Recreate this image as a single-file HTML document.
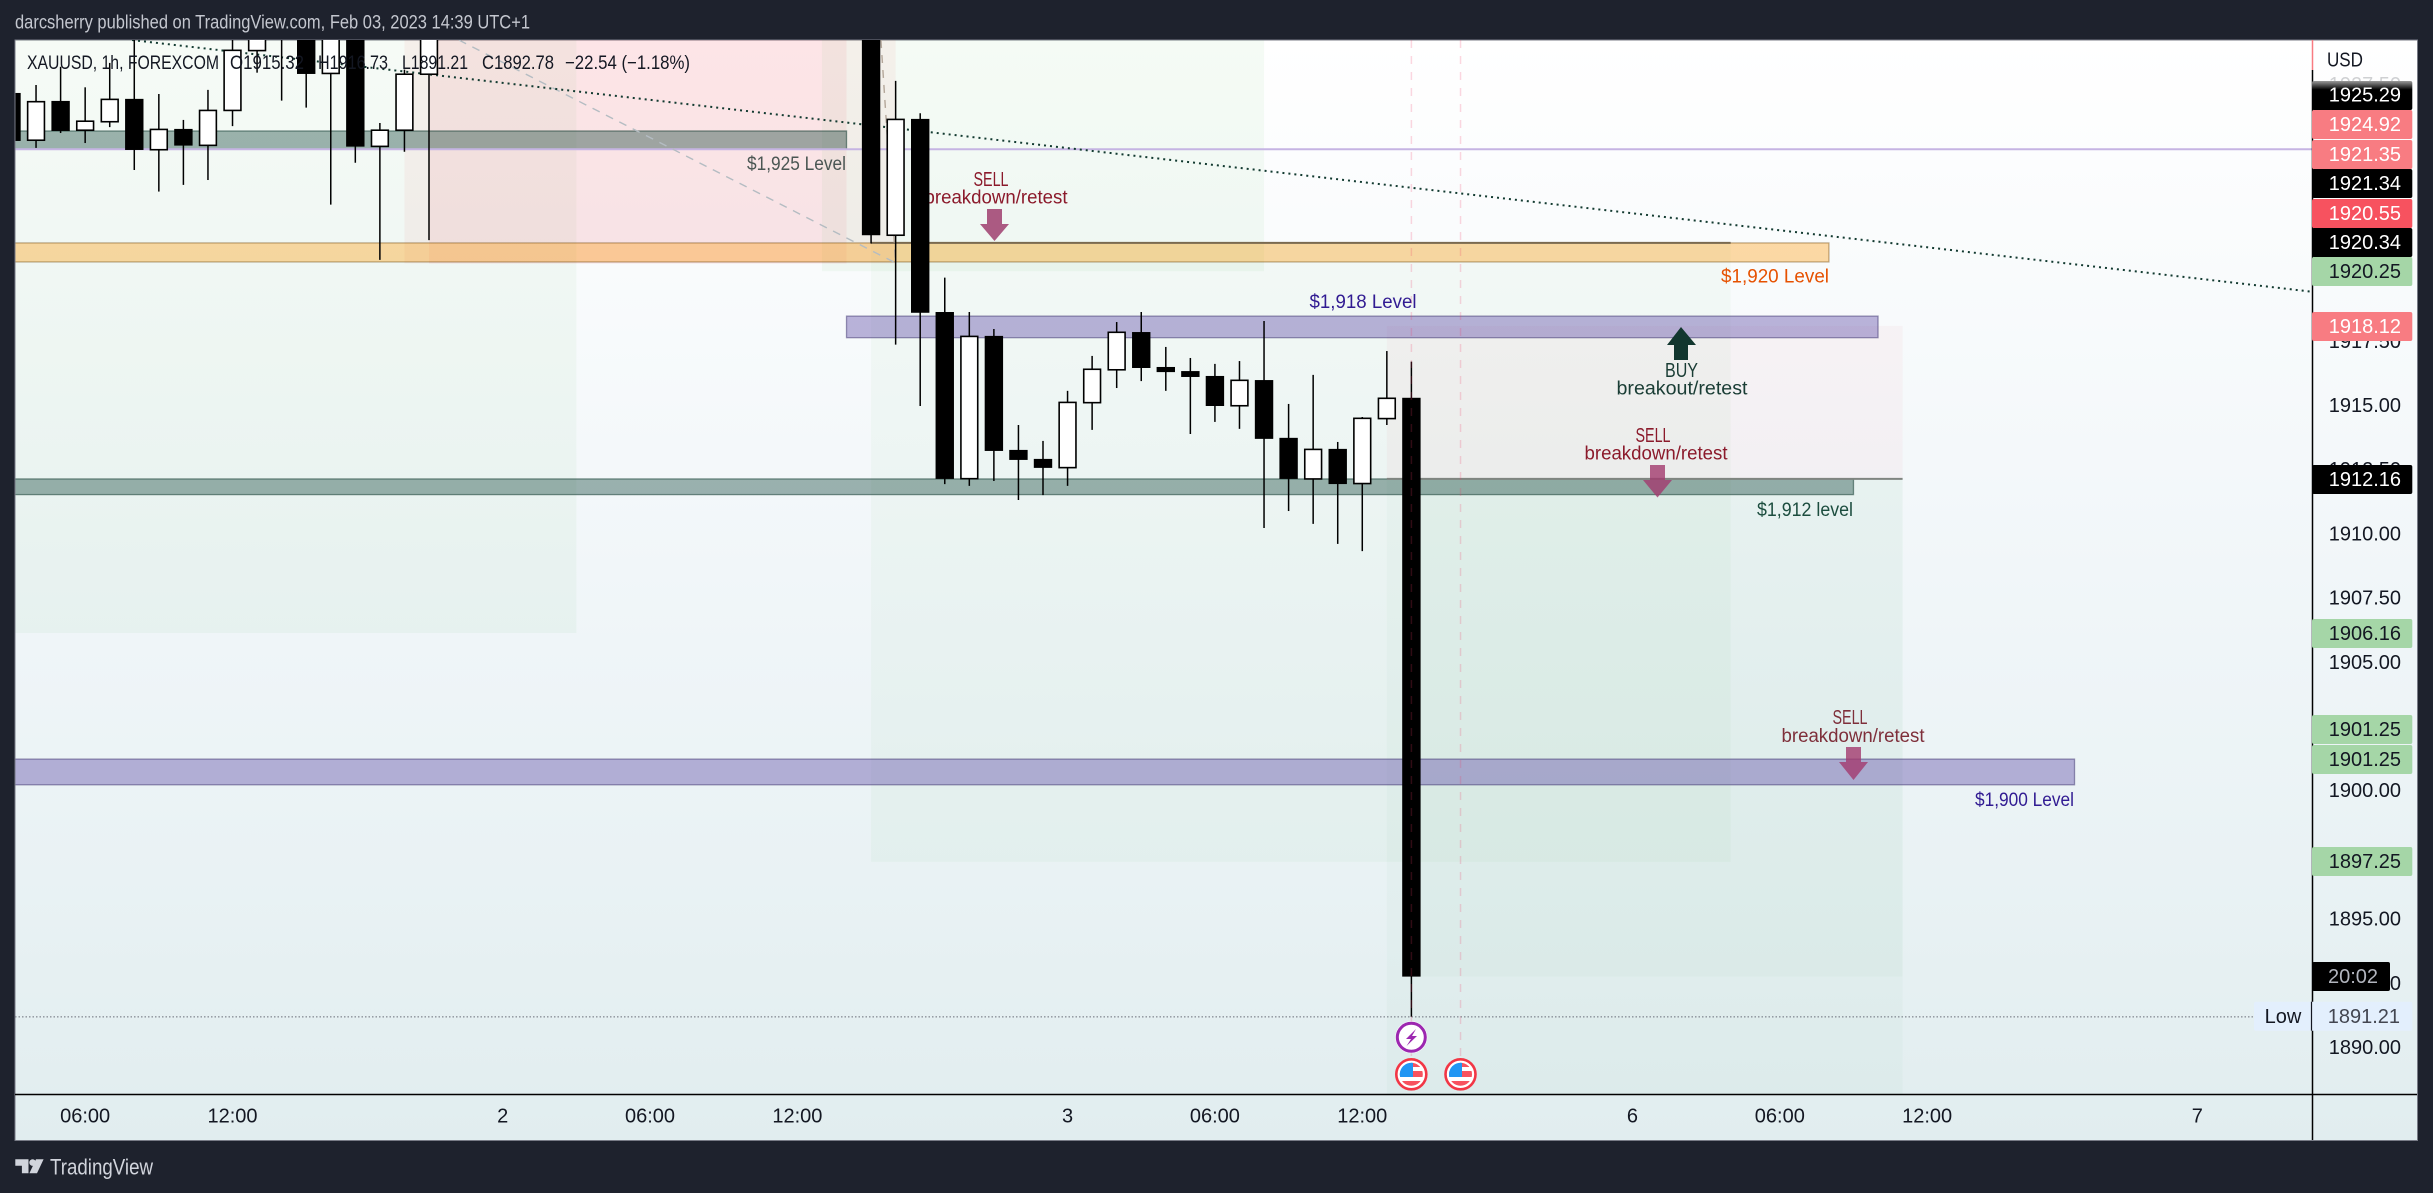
<!DOCTYPE html>
<html lang="en">
<head>
<meta charset="utf-8">
<title>XAUUSD 1h chart</title>
<style>
html,body{margin:0;padding:0;width:2433px;height:1193px;overflow:hidden;background:#1e222d}
svg{display:block;position:absolute;left:0;top:0}
text{font-family:"Liberation Sans",sans-serif;dominant-baseline:central}
</style>
</head>
<body>
<svg xmlns="http://www.w3.org/2000/svg" width="2433" height="1193" viewBox="0 0 2433 1193">
  <defs>
    <linearGradient id="paneGrad" x1="0" y1="0" x2="0" y2="1">
      <stop offset="0" stop-color="#ffffff"/>
      <stop offset="0.55" stop-color="#eff5f8"/>
      <stop offset="0.76" stop-color="#e9f2f4"/>
      <stop offset="1" stop-color="#e1edef"/>
    </linearGradient>
    <linearGradient id="fadeBox" x1="0" y1="0" x2="0" y2="1">
      <stop offset="0" stop-color="#9a9a9a"/>
      <stop offset="0.3" stop-color="#000000"/>
      <stop offset="1" stop-color="#000000"/>
    </linearGradient>
    <clipPath id="paneClip"><rect x="15.5" y="40" width="2296.5" height="1054"/></clipPath>
    <clipPath id="flagClipA"><circle cx="1411.3" cy="1074.3" r="11.5"/></clipPath>
    <clipPath id="flagClipB"><circle cx="1460.5" cy="1074.3" r="11.5"/></clipPath>
  </defs>

  <rect x="0" y="0" width="2433" height="1193" fill="#1e222d"/>
  <text x="15" y="23" font-size="19" fill="#c4c7cf" textLength="515" lengthAdjust="spacingAndGlyphs">darcsherry published on TradingView.com, Feb 03, 2023 14:39 UTC+1</text>

  <rect x="15" y="40" width="2402.5" height="1100.5" fill="url(#paneGrad)" stroke="#787b86" stroke-width="1"/>

  <g id="zones" clip-path="url(#paneClip)"></g>

  <g id="annotations">
    <text x="846" y="164" font-size="19.5" fill="#4a5653" text-anchor="end" textLength="99" lengthAdjust="spacingAndGlyphs">$1,925 Level</text>
    <text x="1829" y="276.5" font-size="19.5" fill="#e65100" text-anchor="end" textLength="108" lengthAdjust="spacingAndGlyphs">$1,920 Level</text>
    <text x="1363" y="302" font-size="19.5" fill="#311b92" text-anchor="middle" textLength="107" lengthAdjust="spacingAndGlyphs">$1,918 Level</text>
    <text x="1853" y="510" font-size="19.5" fill="#1c4d3f" text-anchor="end" textLength="96" lengthAdjust="spacingAndGlyphs">$1,912 level</text>
    <text x="2074" y="800" font-size="19.5" fill="#311b92" text-anchor="end" textLength="99" lengthAdjust="spacingAndGlyphs">$1,900 Level</text>

    <text x="991" y="180" font-size="20" fill="#8b1a2b" text-anchor="middle" textLength="35" lengthAdjust="spacingAndGlyphs">SELL</text>
    <text x="996" y="198" font-size="19" fill="#8b1a2b" text-anchor="middle" textLength="143" lengthAdjust="spacingAndGlyphs">breakdown/retest</text>
    <polygon points="987,209 1002,209 1002,224 1009,224 994.5,241 980,224 987,224" fill="#ab5a82"/>

    <polygon points="1681,327 1696,345 1688,345 1688,360 1674,360 1674,345 1667,345" fill="#12372f"/>
    <text x="1681.5" y="371" font-size="20" fill="#1a3d35" text-anchor="middle" textLength="33" lengthAdjust="spacingAndGlyphs">BUY</text>
    <text x="1682" y="389" font-size="19" fill="#1a3d35" text-anchor="middle" textLength="131" lengthAdjust="spacingAndGlyphs">breakout/retest</text>

    <text x="1653" y="436" font-size="20" fill="#8b1a2b" text-anchor="middle" textLength="35" lengthAdjust="spacingAndGlyphs">SELL</text>
    <text x="1656" y="454" font-size="19" fill="#8b1a2b" text-anchor="middle" textLength="143" lengthAdjust="spacingAndGlyphs">breakdown/retest</text>
    <polygon points="1650,465 1665,465 1665,480 1672,480 1657.5,497.5 1643,480 1650,480" fill="#a33a6e" fill-opacity="0.8"/>

    <text x="1850" y="718" font-size="20" fill="#7e2f3a" text-anchor="middle" textLength="35" lengthAdjust="spacingAndGlyphs">SELL</text>
    <text x="1853" y="736.5" font-size="19" fill="#7e2f3a" text-anchor="middle" textLength="143" lengthAdjust="spacingAndGlyphs">breakdown/retest</text>
    <polygon points="1846,747 1861,747 1861,762 1868,762 1853.5,780 1839,762 1846,762" fill="#a33a6e" fill-opacity="0.8"/>
  </g>

  <g id="candles" clip-path="url(#paneClip)"></g>
  <g id="overlays" clip-path="url(#paneClip)"></g>

  <g id="legend" font-size="19" fill="#131722">
    <text x="27" y="63.5" textLength="192" lengthAdjust="spacingAndGlyphs">XAUUSD, 1h, FOREXCOM</text>
    <text x="230" y="63.5" textLength="74" lengthAdjust="spacingAndGlyphs">O1915.32</text>
    <text x="318" y="63.5" textLength="70" lengthAdjust="spacingAndGlyphs">H1916.73</text>
    <text x="402" y="63.5" textLength="66" lengthAdjust="spacingAndGlyphs">L1891.21</text>
    <text x="482" y="63.5" textLength="72" lengthAdjust="spacingAndGlyphs">C1892.78</text>
    <text x="565" y="63.5" textLength="125" lengthAdjust="spacingAndGlyphs">−22.54 (−1.18%)</text>
  </g>

  <g>
    <g>
      <circle cx="1411.3" cy="1037.3" r="16" fill="#ffffff"/>
      <circle cx="1411.3" cy="1037.3" r="14" fill="#ffffff" stroke="#9c27b0" stroke-width="3"/>
      <polygon points="1416,1029 1406,1039 1411,1039 1406.5,1046 1417,1036 1412,1036" fill="#9c27b0"/>
    </g>
    <g>
      <circle cx="1411.3" cy="1074.3" r="15" fill="#ffffff" stroke="#f23645" stroke-width="2.6"/>
      <g clip-path="url(#flagClipA)">
        <rect x="1399" y="1062" width="25" height="25" fill="#ffffff"/>
        <rect x="1399" y="1071" width="25" height="6" fill="#f7525f"/>
        <rect x="1399" y="1081" width="25" height="6" fill="#f7525f"/>
        <rect x="1411" y="1062" width="13" height="5" fill="#f7525f"/>
        <rect x="1399" y="1062" width="14" height="15" fill="#2196f3"/>
      </g>
    </g>
    <g>
      <circle cx="1460.5" cy="1074.3" r="15" fill="#ffffff" stroke="#f23645" stroke-width="2.6"/>
      <g clip-path="url(#flagClipB)">
        <rect x="1448" y="1062" width="25" height="25" fill="#ffffff"/>
        <rect x="1448" y="1071" width="25" height="6" fill="#f7525f"/>
        <rect x="1448" y="1081" width="25" height="6" fill="#f7525f"/>
        <rect x="1460" y="1062" width="13" height="5" fill="#f7525f"/>
        <rect x="1448" y="1062" width="14" height="15" fill="#2196f3"/>
      </g>
    </g>
  </g>

  <g id="priceAxis"></g>
  <g id="timeAxis"></g>

  <line x1="2312.5" y1="40" x2="2312.5" y2="70" stroke="#f87c82" stroke-width="1.5"/>
  <line x1="2312.5" y1="70" x2="2312.5" y2="1140" stroke="#000000" stroke-width="1.5"/>
  <line x1="15" y1="1094.5" x2="2417" y2="1094.5" stroke="#000000" stroke-width="1.5"/>

  <text x="2327" y="60.5" font-size="20" fill="#131722" textLength="36" lengthAdjust="spacingAndGlyphs">USD</text>

  <g font-size="20" text-anchor="end">
    <g><rect x="2312" y="81" width="100.3" height="29" rx="2" fill="url(#fadeBox)"/><text x="2401" y="95.7" fill="#ffffff">1925.29</text></g>
    <g><rect x="2312" y="110" width="100.3" height="29" rx="2" fill="#f87c82"/><text x="2401" y="125" fill="#ffffff">1924.92</text></g>
    <g><rect x="2312" y="140" width="100.3" height="29" rx="2" fill="#f87c82"/><text x="2401" y="155" fill="#ffffff">1921.35</text></g>
    <g><rect x="2312" y="169" width="100.3" height="29" rx="2" fill="#000000"/><text x="2401" y="184" fill="#ffffff">1921.34</text></g>
    <g><rect x="2312" y="199" width="100.3" height="29" rx="2" fill="#f7525f"/><text x="2401" y="214" fill="#ffffff">1920.55</text></g>
    <g><rect x="2312" y="228" width="100.3" height="29" rx="2" fill="#000000"/><text x="2401" y="243" fill="#ffffff">1920.34</text></g>
    <g><rect x="2312" y="257" width="100.3" height="29" rx="2" fill="#a5d6a7"/><text x="2401" y="272" fill="#131722">1920.25</text></g>
    <g><rect x="2312" y="312" width="100.3" height="29" rx="2" fill="#f87c82"/><text x="2401" y="327" fill="#ffffff">1918.12</text></g>
    <g><rect x="2312" y="465" width="100.3" height="29" rx="2" fill="#000000"/><text x="2401" y="480" fill="#ffffff">1912.16</text></g>
    <g><rect x="2312" y="619" width="100.3" height="29" rx="2" fill="#a5d6a7"/><text x="2401" y="634" fill="#131722">1906.16</text></g>
    <g><rect x="2312" y="715" width="100.3" height="29" rx="2" fill="#a5d6a7"/><text x="2401" y="730" fill="#131722">1901.25</text></g>
    <g><rect x="2312" y="745" width="100.3" height="29" rx="2" fill="#a5d6a7"/><text x="2401" y="760" fill="#131722">1901.25</text></g>
    <g><rect x="2312" y="847" width="100.3" height="29" rx="2" fill="#a5d6a7"/><text x="2401" y="862" fill="#131722">1897.25</text></g>
    <g><rect x="2312" y="962" width="78" height="29" rx="2" fill="#000000"/><text x="2353" y="977" fill="#b2b5be" text-anchor="middle">20:02</text></g>
    <g><rect x="2254" y="1001.7" width="158.3" height="29" rx="2" fill="#e3effd"/><text x="2283" y="1017" fill="#131722" text-anchor="middle">Low</text><line x1="2311.5" y1="1001.7" x2="2311.5" y2="1030.7" stroke="#131722" stroke-width="1.2"/><text x="2400" y="1017" fill="#434651">1891.21</text></g>
  </g>

  <g>
    <path d="M15.3 1159.3h13.2v14h-6.6v-7.6h-6.6z M36 1159.3h7.6l-6.6 14h-7.6z" fill="#d1d4dc"/>
    <circle cx="32.6" cy="1162.6" r="3.3" fill="#d1d4dc"/>
    <text x="50" y="1167" font-size="22" fill="#d1d4dc" textLength="103" lengthAdjust="spacingAndGlyphs">TradingView</text>
  </g>

  <script>
    // ---- chart data (bars counted back from the latest hourly candle) ----
    var barsBack = [57,56,55,54,53,52,51,50,49,48,47,46,45,44,43,42,41,40,22,21,20,19,18,17,16,15,14,13,12,11,10,9,8,7,6,5,4,3,2,1,0];
    var opens  = [1927.19,1925.35,1926.88,1925.74,1926.07,1926.96,1924.98,1925.79,1925.15,1926.51,1928.84,1931.2,1931,1927.95,1931,1925.11,1925.74,1927.92,1932,1921.65,1926.18,1918.66,1912.17,1917.73,1913.29,1912.94,1912.60,1915.13,1916.41,1917.88,1916.52,1916.36,1916.17,1915.01,1916.01,1913.76,1912.16,1913.33,1911.98,1914.51,1915.32];
    var highs  = [1927.9,1927.5,1928.21,1927.41,1928.36,1931,1927.15,1926.14,1927.31,1931,1932,1932,1932,1932,1932,1926.02,1928.1,1932,1933,1927.66,1926.4,1920,1918.66,1918,1914.26,1913.64,1915.59,1916.95,1918.27,1918.66,1917.3,1916.87,1916.64,1916.75,1918.31,1915.08,1916.21,1913.6,1914.57,1917.14,1916.73];
    var lows   = [1925,1925.05,1925.63,1925.24,1925.86,1924.19,1923.35,1923.61,1923.8,1925.9,1927.98,1926.89,1926.62,1922.84,1924.47,1920.69,1924.9,1921.46,1921.33,1917.39,1915,1911.96,1911.89,1912.08,1911.34,1911.53,1911.89,1914.07,1915.7,1915.97,1915.59,1913.91,1914.38,1914.11,1910.25,1910.91,1910.41,1909.63,1909.35,1914.26,1891.21];
    var closes = [1925.32,1926.85,1925.71,1926.09,1926.94,1924.97,1925.77,1925.14,1926.51,1928.85,1931,1930.5,1927.93,1931,1925.1,1925.74,1927.92,1931,1921.65,1926.16,1918.63,1912.16,1917.71,1913.25,1912.9,1912.59,1915.14,1916.43,1917.87,1916.48,1916.32,1916.13,1915,1916,1913.72,1912.16,1913.31,1911.96,1914.52,1915.3,1892.78];

    var priceTicks = [1927.5,1925,1922.5,1920,1917.5,1915,1912.5,1910,1907.5,1905,1902.5,1900,1897.5,1895,1892.5,1890];
    var hiddenPriceTicks = [1925,1922.5,1920,1902.5,1897.5];
    var fadedPriceTicks = [1927.5];
    var timeTickBars = [54,48,37,31,25,14,8,2,-9,-15,-21,-32];
    var timeTickLabels = ['06:00','12:00','2','06:00','12:00','3','06:00','12:00','6','06:00','12:00','7'];

    // drawing boxes: bar-offset range and price range
    var zoneNames  = ['green-zone-left','pink-zone-outer','pink-zone-inner','green-zone-upper','green-zone-middle','green-zone-lower','green-zone-inner','pink-zone-right'];
    var zoneFromBar= [60,41,40,24,22,1,0,1];
    var zoneToBar  = [34,21,23,6,-13,-20,-20,-20];
    var zoneTop    = [1935,1935,1935,1935,1921.35,1912.16,1912.16,1918.12];
    var zoneBottom = [1906.16,1920.55,1920.55,1920.25,1897.25,1885,1892.78,1912.16];
    var zoneFill   = ['rgba(76,175,80,0.05)','rgba(230,70,60,0.06)','rgba(245,50,80,0.075)','rgba(76,175,80,0.055)','rgba(76,175,80,0.04)','rgba(76,175,80,0.03)','rgba(76,175,80,0.03)','rgba(242,54,69,0.04)'];

    // horizontal level bands
    var bandNames  = ['band-1925','band-1920','band-1918','band-1912','band-1900'];
    var bandFromBar= [60,60,23,60,60];
    var bandToBar  = [23,-17,-19,-18,-27];
    var bandTop    = [1925.71,1921.35,1918.5,1912.16,1901.25];
    var bandBottom = [1925,1920.61,1917.66,1911.55,1900.25];
    var bandFill   = ['rgba(8,60,50,0.38)','rgba(255,152,0,0.35)','rgba(90,70,165,0.4)','rgba(8,60,50,0.38)','rgba(90,70,165,0.4)'];
    var bandStroke = ['rgba(8,50,40,0.5)','rgba(120,80,20,0.45)','rgba(60,50,110,0.5)','rgba(8,50,40,0.5)','rgba(60,50,110,0.5)'];

    // single horizontal lines
    var hLineNames  = ['level-line-1925','stop-line-1921','stop-line-1912'];
    var hLinePrice  = [1925,1921.35,1912.16];
    var hLineFromBar= [60,22,1];
    var hLineToBar  = [-37,-13,-20];
    var hLineColor  = ['#c5b4e3','#7a6a50','#7f8580'];

    var trendBars   = [52.09,-36.67];
    var trendPrices = [1929.25,1919.45];
    var guideABars  = [38.78,21];
    var guideAPrices= [1929.25,1920.57];
    var guideBBars  = [21.6,21];
    var guideBPrices= [1929.25,1920.57];
    var eventBars   = [0,-2];
    var lowPrice    = 1891.21;

    // ---- axis functions ----
    function xScale(bar){ return 1411.4 - bar * 24.56; }
    function yScale(price){ return 406 + (1915 - price) * 25.68; }

    var NS = 'http://www.w3.org/2000/svg';
    function make(tag, parent){
      var node = document.createElementNS(NS, tag);
      parent.appendChild(node);
      return node;
    }

    var zonesG = document.getElementById('zones');
    for (var z = 0; z < zoneNames.length; z++){
      var zr = make('rect', zonesG);
      zr.setAttribute('x', xScale(zoneFromBar[z]));
      zr.setAttribute('width', xScale(zoneToBar[z]) - xScale(zoneFromBar[z]));
      zr.setAttribute('y', yScale(zoneTop[z]));
      zr.setAttribute('height', yScale(zoneBottom[z]) - yScale(zoneTop[z]));
      zr.setAttribute('fill', zoneFill[z]);
      
      
    }
    for (var b = 0; b < bandNames.length; b++){
      var br = make('rect', zonesG);
      br.setAttribute('x', xScale(bandFromBar[b]));
      br.setAttribute('width', xScale(bandToBar[b]) - xScale(bandFromBar[b]));
      br.setAttribute('y', yScale(bandTop[b]));
      br.setAttribute('height', yScale(bandBottom[b]) - yScale(bandTop[b]));
      br.setAttribute('fill', bandFill[b]);
      br.setAttribute('stroke', bandStroke[b]);
      br.setAttribute('stroke-width', '1.3');
      
      
    }
    for (var h = 0; h < hLineNames.length; h++){
      var hl = make('line', zonesG);
      hl.setAttribute('x1', xScale(hLineFromBar[h]));
      hl.setAttribute('x2', xScale(hLineToBar[h]));
      hl.setAttribute('y1', yScale(hLinePrice[h]));
      hl.setAttribute('y2', yScale(hLinePrice[h]));
      hl.setAttribute('stroke', hLineColor[h]);
      hl.setAttribute('stroke-width', '2');
      
      
    }

    var guideA = make('line', zonesG);
    guideA.setAttribute('x1', xScale(guideABars[0]));
    guideA.setAttribute('y1', yScale(guideAPrices[0]));
    guideA.setAttribute('x2', xScale(guideABars[1]));
    guideA.setAttribute('y2', yScale(guideAPrices[1]));
    guideA.setAttribute('stroke', '#b4bcc2');
    guideA.setAttribute('stroke-width', '1.4');
    guideA.setAttribute('stroke-dasharray', '8 7');
    
    

    var guideB = make('line', zonesG);
    guideB.setAttribute('x1', xScale(guideBBars[0]));
    guideB.setAttribute('y1', yScale(guideBPrices[0]));
    guideB.setAttribute('x2', xScale(guideBBars[1]));
    guideB.setAttribute('y2', yScale(guideBPrices[1]));
    guideB.setAttribute('stroke', '#b4a79a');
    guideB.setAttribute('stroke-width', '1.4');
    guideB.setAttribute('stroke-dasharray', '8 7');
    
    

    var trend = make('line', zonesG);
    trend.setAttribute('x1', xScale(trendBars[0]));
    trend.setAttribute('y1', yScale(trendPrices[0]));
    trend.setAttribute('x2', xScale(trendBars[1]));
    trend.setAttribute('y2', yScale(trendPrices[1]));
    trend.setAttribute('stroke', '#123a30');
    trend.setAttribute('stroke-width', '2');
    trend.setAttribute('stroke-dasharray', '2 4');
    
    

    var candlesG = document.getElementById('candles');
    var BODY_W = 18.4;
    for (var i = 0; i < barsBack.length; i++){
      var cx = xScale(barsBack[i]);
      var up = closes[i] >= opens[i];
      var topY = yScale(Math.max(opens[i], closes[i]));
      var botY = yScale(Math.min(opens[i], closes[i]));

      var wick = make('line', candlesG);
      wick.setAttribute('x1', cx);
      wick.setAttribute('x2', cx);
      wick.setAttribute('y1', yScale(highs[i]));
      wick.setAttribute('y2', yScale(lows[i]));
      wick.setAttribute('stroke', '#000000');
      wick.setAttribute('stroke-width', '1.5');
      
      

      var body = make('rect', candlesG);
      if (up){
        body.setAttribute('x', cx - BODY_W / 2 + 0.8);
        body.setAttribute('width', BODY_W - 1.6);
        body.setAttribute('y', topY);
        body.setAttribute('height', Math.max(botY - topY, 1));
        body.setAttribute('fill', '#ffffff');
        body.setAttribute('stroke', '#000000');
        body.setAttribute('stroke-width', '1.6');
      } else {
        body.setAttribute('x', cx - BODY_W / 2);
        body.setAttribute('width', BODY_W);
        body.setAttribute('y', topY);
        body.setAttribute('height', Math.max(botY - topY, 1));
        body.setAttribute('fill', '#000000');
      }
      
      
    }

    var overlaysG = document.getElementById('overlays');
    for (var e = 0; e < eventBars.length; e++){
      var ev = make('line', overlaysG);
      ev.setAttribute('x1', xScale(eventBars[e]));
      ev.setAttribute('x2', xScale(eventBars[e]));
      ev.setAttribute('y1', 40);
      ev.setAttribute('y2', 1060);
      ev.setAttribute('stroke', 'rgba(242,54,100,0.2)');
      ev.setAttribute('stroke-width', '1.5');
      ev.setAttribute('stroke-dasharray', '8 8');
      
      
    }

    var lowLine = make('line', overlaysG);
    lowLine.setAttribute('x1', 15);
    lowLine.setAttribute('x2', 2254);
    lowLine.setAttribute('y1', yScale(lowPrice));
    lowLine.setAttribute('y2', yScale(lowPrice));
    lowLine.setAttribute('stroke', '#6a6d78');
    lowLine.setAttribute('stroke-width', '1');
    lowLine.setAttribute('stroke-dasharray', '1.5 2');
    
    

    var priceAxisG = document.getElementById('priceAxis');
    for (var p = 0; p < priceTicks.length; p++){
      if (hiddenPriceTicks.indexOf(priceTicks[p]) !== -1) continue;
      var pt = make('text', priceAxisG);
      pt.setAttribute('x', 2401);
      pt.setAttribute('y', yScale(priceTicks[p]));
      pt.setAttribute('font-size', '20');
      pt.setAttribute('text-anchor', 'end');
      pt.setAttribute('fill', '#131722');
      if (fadedPriceTicks.indexOf(priceTicks[p]) !== -1) pt.setAttribute('fill-opacity', '0.2');
      pt.textContent = priceTicks[p].toFixed(2);
      
      
    }

    var timeAxisG = document.getElementById('timeAxis');
    for (var t = 0; t < timeTickBars.length; t++){
      var tt = make('text', timeAxisG);
      tt.setAttribute('x', xScale(timeTickBars[t]));
      tt.setAttribute('y', 1116.5);
      tt.setAttribute('font-size', '20');
      tt.setAttribute('text-anchor', 'middle');
      tt.setAttribute('fill', '#131722');
      tt.textContent = timeTickLabels[t];
      
      
    }
  </script>
</svg>
</body>
</html>
